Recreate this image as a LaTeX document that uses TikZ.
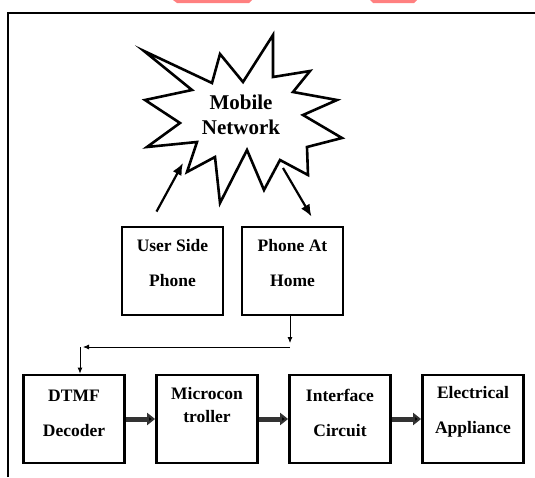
\documentclass[tikz,border=0pt]{standalone}
\usepackage{fontspec}
\setmainfont{Liberation Serif}
\usepackage{tikz}
\usetikzlibrary{positioning,arrows.meta}
\definecolor{markpink}{RGB}{255,128,128}

\begin{document}
\begin{tikzpicture}[x=1pt,y=-1pt, node distance=133pt,
   main node/.style={rectangle,draw,line width=2.8pt,minimum width=101pt,minimum height=88pt},
   box text/.style={align=center,font=\fontsize{17.5}{20}\selectfont\bfseries},
   burst line/.style={line width=2.6pt,line join=miter},
   net arrow/.style={line width=2.2pt,-{Latex[length=12pt,width=10pt]}},
   thin arrow/.style={line width=0.8pt,-{Latex[length=6pt,width=5pt]}},
   big arrow/.style={line width=5pt,draw=black!80,-{Triangle[length=8pt,width=12pt]}}]

   \useasboundingbox (0,0) rectangle (535,477);
   \fill[markpink] (173,0) -- (252,0) -- (249,3) -- (177,3) -- cycle;
   \fill[markpink] (370,0) -- (417,0) -- (414,3) -- (373,3) -- cycle;

   % frame
   \draw[line width=2pt] (8,477) -- (8,13) -- (535,13);

   % mobile network
   \draw[burst line] (144,51) -- (212,83) -- (220,54) -- (243,82) -- (273,35) -- (273,77)
      -- (310,71) -- (293,92) -- (337,100) -- (303,115) -- (342,138) -- (307,147)
      -- (308,175) -- (280,160) -- (264,190) -- (247,150) -- (220,203) -- (215,157)
      -- (187,172) -- (197,142) -- (147,147) -- (180,123) -- (145,100) -- (192,90) -- cycle;
   \node[box text,font=\fontsize{21}{25}\selectfont\bfseries] (net) at (241,115) {Mobile\\Network};
   \coordinate (net in) at (183,163);
   \coordinate (net out) at (283,168);

   \node[main node] (user) at (172.5,271) {};
   \node[main node] (home) [right of=user, node distance=120pt] {};
   \node[box text] (user txt) at ([yshift=7.5pt]user.center) {User Side\\[15pt]Phone};
   \node[box text] (home txt) at ([yshift=7.5pt]home.center) {Phone At\\[15pt]Home};

   \node[main node] (dtmf) at (74,419) {};
   \node[main node] (micro) [right of=dtmf] {};
   \node[main node] (iface) [right of=micro] {};
   \node[main node] (appl) [right of=iface] {};
   \node[box text] (dtmf txt) at ([yshift=6pt]dtmf.center) {DTMF\\[15pt]Decoder};
   \node[box text] (micro txt) at ([yshift=13.5pt]micro.center) {Microcon\\[3pt]troller};
   \node[box text] (iface txt) at ([yshift=6pt]iface.center) {Interface\\[15pt]Circuit};
   \node[box text] (appl txt) at ([yshift=7.5pt]appl.center) {Electrical\\[15pt]Appliance};

   \draw[net arrow] ([shift={(-16,-14)}]user.north) -- (net in);
   \draw[net arrow] (net out) -- ([shift={(19,-9)}]home.north);

   % home phone down to decoder
   \coordinate (split) at (290,347);
   \coordinate (corner) at (80,347);
   \draw[thin arrow] ([xshift=-2.5pt]home.south) -- ([yshift=4pt]split);
   \draw[thin arrow] (split) -- ([xshift=3pt]corner);
   \draw[thin arrow] (corner) -- ([xshift=6pt]dtmf.north);

   \path[big arrow]
     (dtmf) edge (micro)
     (micro) edge (iface)
     (iface) edge (appl);
\end{tikzpicture}
\end{document}
